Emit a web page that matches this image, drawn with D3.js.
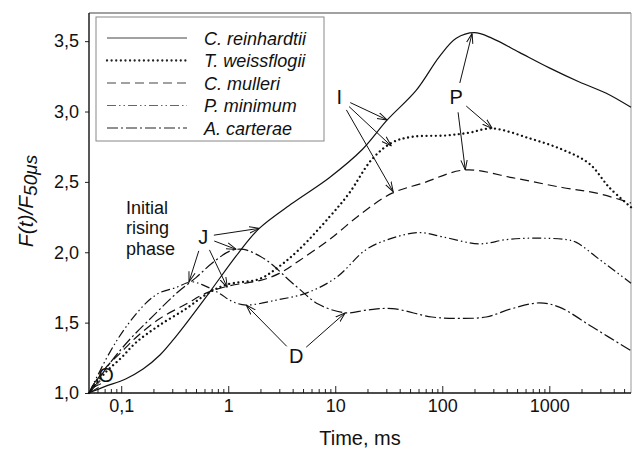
<!DOCTYPE html>
<html><head><meta charset="utf-8">
<script src="https://cdn.jsdelivr.net/npm/d3@7"></script>
<style>
body{margin:0;background:#fff;}
svg{display:block;font-family:"Liberation Sans",Arial,Helvetica,sans-serif;}
</style></head>
<body><svg id="c" width="633" height="450"></svg>
<script>
// ---------- data ----------
const seriesNames = ["C. reinhardtii","T. weissflogii","C. mulleri","P. minimum","A. carterae"];
const reinT = [0.05,0.07,0.11,0.16,0.23,0.3,0.40,0.66,1.26,1.95,4,8.8,17.9,30.6,57,94,135,199,293,525,1000,1910,3410,5800];
const reinV = [1.0,1.045,1.10,1.17,1.27,1.37,1.49,1.71,2.0,2.17,2.35,2.53,2.73,2.94,3.15,3.39,3.52,3.56,3.52,3.42,3.31,3.21,3.13,3.03];
const weisT = [0.05,0.07,0.1,0.138,0.226,0.405,0.62,0.96,1.95,3,4.6,8.8,13.5,22,34,52,109,179,293,650,1320,2360,3640,5800];
const weisV = [1.0,1.14,1.25,1.36,1.48,1.60,1.70,1.77,1.81,1.90,2.02,2.25,2.42,2.66,2.78,2.82,2.83,2.85,2.88,2.81,2.73,2.63,2.46,2.32];
const mullT = [0.05,0.07,0.1,0.14,0.23,0.4,0.62,1,2,3,4.6,8.8,17.9,34,65,164,450,1320,2770,5800];
const mullV = [1.0,1.17,1.29,1.40,1.53,1.63,1.71,1.76,1.80,1.85,1.94,2.09,2.28,2.42,2.49,2.585,2.53,2.46,2.42,2.35];
const pminT = [0.05,0.077,0.111,0.171,0.226,0.327,0.45,0.57,0.82,1.09,1.47,2.81,5.36,10.2,19.5,34,61,100,222,396,694,1440,1790,2930,5800];
const pminV = [1.0,1.28,1.47,1.64,1.71,1.75,1.79,1.77,1.71,1.65,1.625,1.66,1.71,1.82,2.02,2.10,2.14,2.11,2.06,2.09,2.10,2.09,2.07,1.95,1.78];
const acarT = [0.05,0.08,0.12,0.2,0.33,0.5,0.7,1.05,1.4,2.0,2.6,3.6,4.6,7,12.4,20,34,80,144,257,450,810,1240,2510,5800];
const acarV = [1.0,1.22,1.38,1.55,1.71,1.82,1.92,2.01,2.02,1.97,1.91,1.81,1.74,1.63,1.57,1.59,1.60,1.54,1.53,1.54,1.60,1.64,1.61,1.47,1.30];

const xMajor = [0.1,1,10,100,1000];
const xMajorLabels = ["0,1","1","10","100","1000"];
const yTicks = [1.0,1.5,2.0,2.5,3.0,3.5];
const yTickLabels = ["1,0","1,5","2,0","2,5","3,0","3,5"];

// annotations (data coordinates)
const annText = ["J","I","P","D"];
const annT = [0.584,10.9,135,4.32];
const annV = [2.11,3.10,3.10,1.263];
const annTargets = [
  [[1.95,2.17],[1.19,2.02],[0.43,1.79],[0.98,1.75]],
  [[30.6,2.94],[33.4,2.755],[34.8,2.43]],
  [[190,3.555],[293,2.88],[164,2.585]],
  [[1.47,1.625],[12.4,1.57]]
];
const oLabel = {t:0.072, v:1.128};
const oTargets = [[0.0505,1.003],[0.053,1.035]];
const phaseLines = ["Initial","rising","phase"];
const phasePos = {t:0.111, v:2.32};

// ---------- setup ----------
const svg = d3.select("#c");
const x = d3.scaleLog().domain([0.05,5800]).range([89,631]);
const y = d3.scaleLinear().domain([1,3.7]).range([393,13]);

const defs = svg.append("defs");
defs.append("marker").attr("id","ah").attr("viewBox","0 0 10 10")
  .attr("refX",10).attr("refY",5).attr("markerWidth",10).attr("markerHeight",10)
  .attr("markerUnits","userSpaceOnUse").attr("orient","auto")
  .append("path").attr("d","M0,1.8 L10,5 L0,8.2").attr("fill","none")
  .attr("stroke","#111").attr("stroke-width",1);

// frame
svg.append("line").attr("x1",89).attr("x2",631).attr("y1",13).attr("y2",13).attr("stroke","#444").attr("stroke-width",1.2);
svg.append("line").attr("x1",631).attr("x2",631).attr("y1",13).attr("y2",393).attr("stroke","#999").attr("stroke-width",1);

// x axis
const minor = [];
for (let d=0.01; d<=1000; d*=10) for (let k=2;k<=9;k++){const v=+(k*d).toPrecision(3); if(v>0.05 && v<5800) minor.push(v);}
const gx = svg.append("g").attr("transform","translate(0,393)");
gx.call(d3.axisBottom(x).tickValues(minor).tickSize(-4).tickFormat(""));
gx.call(g=>g.select(".domain").remove());
const gx2 = svg.append("g").attr("transform","translate(0,393)");
gx2.call(d3.axisBottom(x).tickValues(xMajor).tickSize(-7).tickPadding(6)
  .tickFormat((d,i)=>xMajorLabels[i]));
gx2.select(".domain").remove();
gx2.selectAll("text").attr("font-size",18).attr("font-family","Liberation Sans, Arial").attr("fill","#111");
svg.selectAll(".tick line").attr("stroke","#222");

// y axis
const gy = svg.append("g").attr("transform","translate(89,0)");
gy.call(d3.axisLeft(y).tickValues(yTicks).tickSize(4).tickPadding(6).tickFormat((d,i)=>yTickLabels[i]));
gy.select(".domain").remove();
gy.selectAll("text").attr("font-size",18).attr("font-family","Liberation Sans, Arial").attr("fill","#111");
gy.selectAll(".tick line").attr("stroke","#222");

svg.append("line").attr("x1",89).attr("x2",89).attr("y1",13).attr("y2",393.5).attr("stroke","#111").attr("stroke-width",1.4);
svg.append("line").attr("x1",88.5).attr("x2",631).attr("y1",393).attr("y2",393).attr("stroke","#111").attr("stroke-width",1.4);

// titles
svg.append("text").attr("x",360).attr("y",445).attr("text-anchor","middle")
  .attr("font-size",20).attr("fill","#111").text("Time, ms");
const yt = svg.append("text").attr("transform","translate(33,201) rotate(-90)")
  .attr("text-anchor","middle").attr("font-size",21).attr("font-style","italic").attr("fill","#111");
yt.append("tspan").text("F(t)/F");
yt.append("tspan").attr("dy",4).attr("font-size",19).text("50μs");

// ---------- series ----------
const styles = [
  {dash:null, w:1.2, cap:"butt", col:"#111"},
  {dash:"0.01,4.6", w:2.3, cap:"round", col:"#111"},
  {dash:"9,5", w:1.2, cap:"butt", col:"#111"},
  {dash:"9,3,1.5,3,1.5,3", w:1.2, cap:"butt", col:"#111"},
  {dash:"11,3,2,3", w:1.2, cap:"butt", col:"#111"}
];
const seriesT = [reinT,weisT,mullT,pminT,acarT];
const seriesV = [reinV,weisV,mullV,pminV,acarV];
const line = d3.line().x(d=>x(d[0])).y(d=>y(d[1])).curve(d3.curveCatmullRom.alpha(0.5));
seriesT.forEach((ts,i)=>{
  const pts = ts.map((t,j)=>[t,seriesV[i][j]]);
  const p = svg.append("path").datum(pts).attr("d",line).attr("fill","none")
    .attr("stroke",styles[i].col).attr("stroke-width",styles[i].w).attr("stroke-linecap",styles[i].cap);
  if (styles[i].dash) p.attr("stroke-dasharray",styles[i].dash);
});

// ---------- legend ----------
svg.append("rect").attr("x",96).attr("y",17).attr("width",228).attr("height",124)
  .attr("fill","#fff").attr("stroke","#888").attr("stroke-width",1);
seriesNames.forEach((n,i)=>{
  const yy = 38 + i*22.5;
  const l = svg.append("line").attr("x1",107).attr("x2",187).attr("y1",yy).attr("y2",yy)
    .attr("stroke", i===0||i===2 ? "#444" : (i===3 ? "#666" : "#222"))
    .attr("stroke-width",styles[i].w).attr("stroke-linecap",styles[i].cap);
  if (styles[i].dash) l.attr("stroke-dasharray",styles[i].dash);
  svg.append("text").attr("x",204).attr("y",yy+6.5).attr("font-size",18)
    .attr("font-style","italic").attr("fill","#111").text(n);
});

// ---------- annotations ----------
function arrow(x0,y0,x1,y1){
  svg.append("line").attr("x1",x0).attr("y1",y0).attr("x2",x1).attr("y2",y1)
    .attr("stroke","#111").attr("stroke-width",1).attr("marker-end","url(#ah)");
}
annText.forEach((s,i)=>{
  const cx = x(annT[i]), cy = y(annV[i]);
  svg.append("text").attr("x",cx).attr("y",cy+7).attr("text-anchor","middle")
    .attr("font-size",20).attr("fill","#111").text(s);
  annTargets[i].forEach(tg=>{
    const tx = x(tg[0]), ty = y(tg[1]);
    const dx = tx-cx, dy = ty-cy, L = Math.hypot(dx,dy);
    const r = 10 + 5*Math.abs(dy/L);
    arrow(cx+dx/L*r, cy+dy/L*r, tx, ty);
  });
});
{
  const cx = x(oLabel.t), cy = y(oLabel.v);
  svg.append("text").attr("x",cx).attr("y",cy+7).attr("text-anchor","middle")
    .attr("font-size",20).attr("fill","#111").text("O");
  oTargets.forEach(tg=>{
    const tx = x(tg[0]), ty = y(tg[1]);
    const dx = tx-cx, dy = ty-cy, L = Math.hypot(dx,dy);
    arrow(cx+dx/L*8, cy+dy/L*8, tx, ty);
  });
}
phaseLines.forEach((s,i)=>{
  svg.append("text").attr("x",x(phasePos.t)).attr("y",y(phasePos.v)+6.5+i*20.5)
    .attr("font-size",18).attr("fill","#111").text(s);
});
</script></body></html>
